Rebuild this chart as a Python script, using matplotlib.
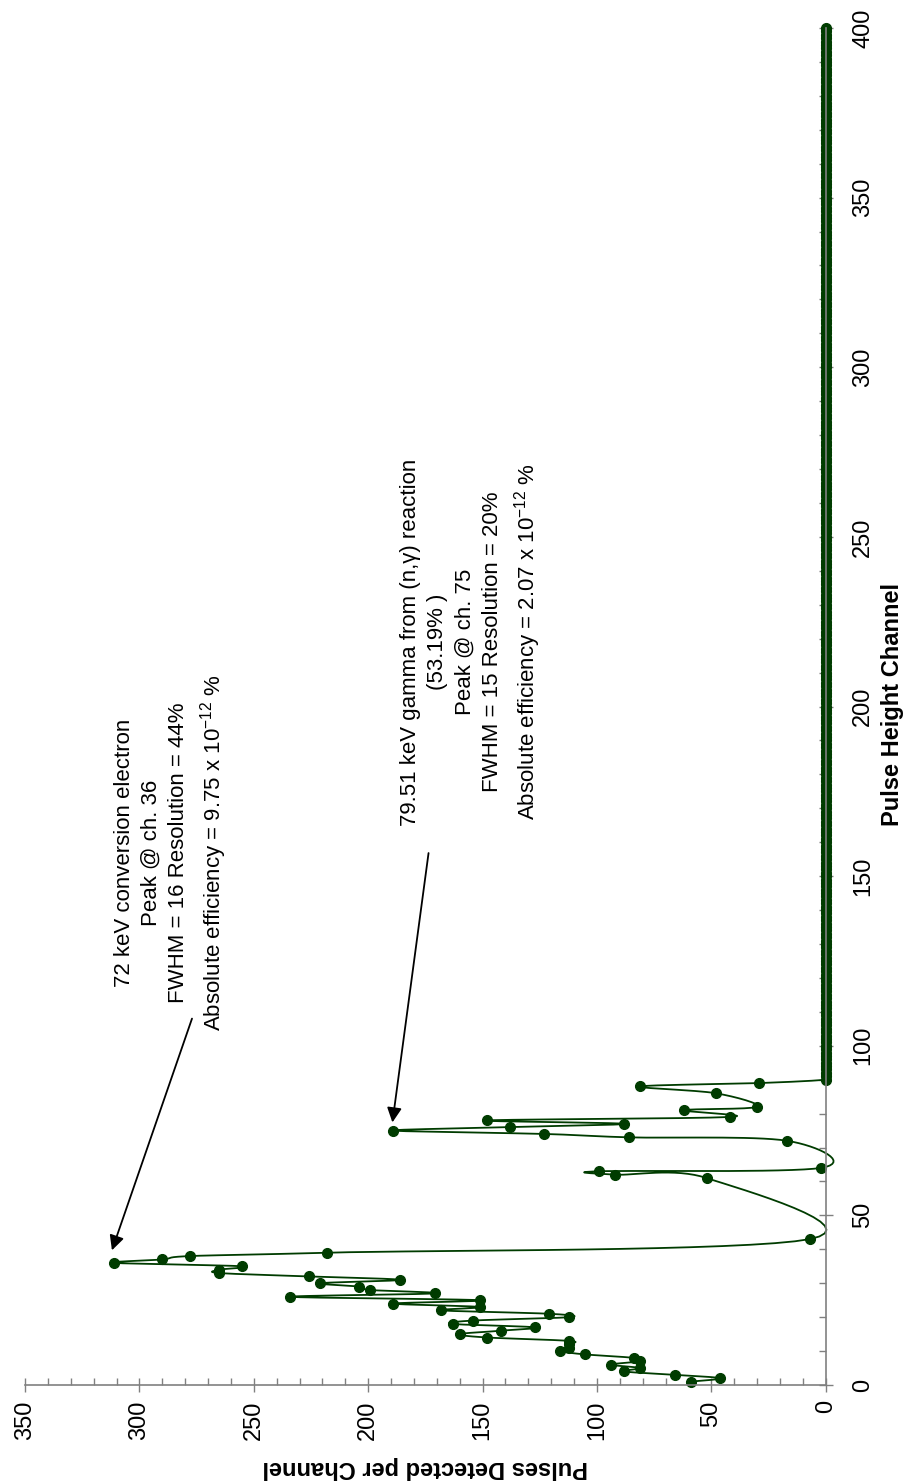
import numpy as np
import matplotlib.pyplot as plt
from matplotlib.ticker import MultipleLocator

plt.rcParams['font.family'] = ['Liberation Sans', 'DejaVu Sans']
plt.rcParams['mathtext.default'] = 'regular'

# spectrum (channel, pulses)
peak_channels = [1, 2, 3, 4, 5, 6, 7, 8, 9, 10, 11, 12, 13, 14, 15, 16, 17, 18, 19, 20,
                 21, 22, 23, 24, 25, 26, 27, 28, 29, 30, 31, 32, 33, 34, 35, 36, 37, 38, 39,
                 43, 61, 62, 63, 64, 72, 73, 74, 75, 76, 77, 78, 79, 81, 82, 86, 88, 89]
peak_counts = [59, 46, 66, 88, 81, 94, 81, 84, 105, 116, 112, 112, 112, 148, 160, 142, 127, 163, 154, 112,
               121, 168, 151, 189, 151, 234, 171, 199, 204, 221, 186, 226, 265, 265, 255, 311, 290, 278, 218,
               7, 52, 92, 99, 2, 17, 86, 123, 189, 138, 88, 148, 42, 62, 30, 48, 81, 29]
# empty channels above the gamma peak
tail_channels = list(range(90, 401))
tail_counts = [0] * len(tail_channels)

channels = peak_channels + tail_channels
counts = peak_counts + tail_counts

ann_electron = ('72 keV conversion electron\nPeak @ ch. 36\nFWHM = 16 Resolution = 44%\n'
                'Absolute efficiency = 9.75 x 10$^{-12}$ %')
ann_gamma = ('79.51 keV gamma from (n,\u03b3) reaction\n(53.19% )\nPeak @ ch. 75\n'
             'FWHM = 15 Resolution = 20%\nAbsolute efficiency = 2.07 x 10$^{-12}$ %')

GREEN = '#003c00'
GRAY = '#808080'


def smooth(xs, ys, n=16):
    # excel-like smoothed line: bezier segments with catmull-rom control points
    p = np.column_stack([xs, ys]).astype(float)
    p = np.vstack([p[0], p, p[-1]])
    t = np.linspace(0, 1, n, endpoint=False)[:, None]
    segs = []
    for i in range(1, len(p) - 2):
        p0, p1, p2, p3 = p[i - 1], p[i], p[i + 1], p[i + 2]
        c1 = p1 + (p2 - p0) / 6
        c2 = p2 - (p3 - p1) / 6
        segs.append((1 - t) ** 3 * p1 + 3 * (1 - t) ** 2 * t * c1
                    + 3 * (1 - t) * t ** 2 * c2 + t ** 3 * p2)
    segs.append(p[-2][None])
    return np.vstack(segs)


fig = plt.figure(figsize=(9.17, 14.83), dpi=100)
ax = fig.add_axes([25 / 917, 1 - 1385 / 1483, 800.7 / 917, 1357 / 1483])

curve = smooth(channels, counts)
ax.plot(curve[:, 1], curve[:, 0], color=GREEN, lw=1.3, clip_on=False)
ax.plot(counts, channels, 'o', color=GREEN, ms=7, clip_on=False)

ax.set_xlim(350, 0)
ax.set_ylim(0, 400)

ax.spines['top'].set_visible(False)
ax.spines['left'].set_visible(False)
for side in ('bottom', 'right'):
    ax.spines[side].set_color(GRAY)
    ax.spines[side].set_linewidth(1.2)

ax.yaxis.tick_right()
ax.xaxis.set_major_locator(MultipleLocator(50))
ax.xaxis.set_minor_locator(MultipleLocator(10))
ax.yaxis.set_major_locator(MultipleLocator(50))
ax.yaxis.set_minor_locator(MultipleLocator(10))
ax.tick_params(which='major', direction='inout', length=10, width=1, color=GRAY, labelsize=17)
ax.tick_params(which='minor', direction='in', length=5, width=1, color=GRAY)
ax.tick_params(axis='x', labelrotation=90, pad=6)
ax.tick_params(axis='y', labelrotation=90, pad=14)
plt.setp(ax.get_yticklabels(), va='center')

fig.text(425 / 917, 1 - 1468 / 1483, 'Pulses Detected per Channel', rotation=180,
         ha='center', va='center', fontsize=17, fontweight='bold')
fig.text(893 / 917, 1 - 705 / 1483, 'Pulse Height Channel', rotation=90,
         ha='center', va='center', fontsize=17, fontweight='bold')

arrow = dict(arrowstyle='-|>', color='black', lw=1.3, mutation_scale=22, shrinkA=0, shrinkB=0)
ax.annotate('', xy=(312, 39.7), xytext=(277, 108), arrowprops=arrow)
ax.annotate('', xy=(189.4, 77.4), xytext=(173.6, 156.8), arrowprops=arrow)

ax.text(286, 157, ann_electron, rotation=90, ha='center', va='center',
        multialignment='center', fontsize=16, linespacing=1.4)
ax.text(155, 219, ann_gamma, rotation=90, ha='center', va='center',
        multialignment='center', fontsize=16, linespacing=1.4)

fig.savefig('out.png', dpi=100)
